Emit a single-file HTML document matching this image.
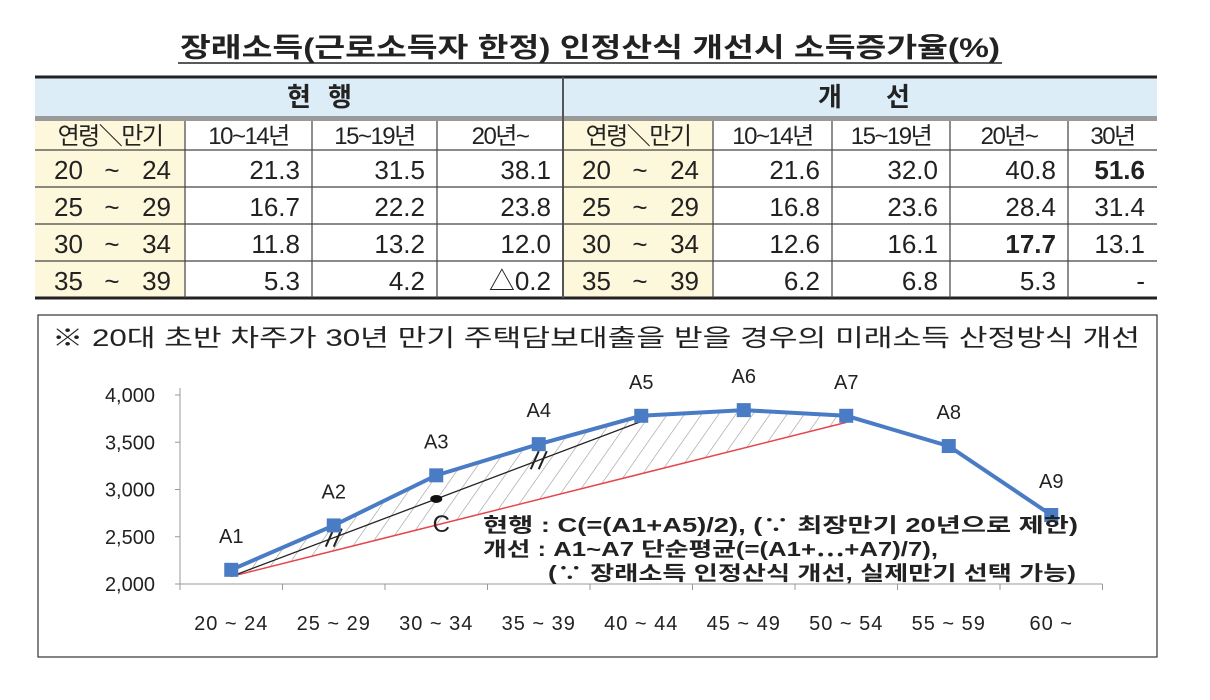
<!DOCTYPE html>
<html><head><meta charset="utf-8"><style>
body{margin:0;background:#fff;width:1210px;height:695px;overflow:hidden}
svg text{font-family:"Liberation Sans","Noto Sans CJK KR",sans-serif;fill:#222}
</style></head><body>
<svg width="1210" height="695">
<defs><pattern id="hatch" width="14" height="14" patternUnits="userSpaceOnUse" patternTransform="rotate(35)"><line x1="0" y1="0" x2="0" y2="14" stroke="#999" stroke-width="1.2"/></pattern></defs>
<text x="180" y="57" font-size="27" font-weight="bold" textLength="820" lengthAdjust="spacingAndGlyphs">장래소득(근로소득자 한정) 인정산식 개선시 소득증가율(%)</text>
<line x1="178" y1="63" x2="1002" y2="63" stroke="#222" stroke-width="1.5"/>
<g id="table"></g>
<rect x="38" y="315" width="1119" height="342" fill="none" stroke="#333" stroke-width="1.2"/>
<text x="52" y="346" font-size="24" textLength="1088" lengthAdjust="spacingAndGlyphs">※ 20대 초반 차주가 30년 만기 주택담보대출을 받을 경우의 미래소득 산정방식 개선</text>
<g id="chart"></g>
</svg>
<script>
const NS='http://www.w3.org/2000/svg';
function mk(p,t,a,txt){const e=document.createElementNS(NS,t);for(const k in a)e.setAttribute(k,a[k]);if(txt!==undefined)e.textContent=txt;p.appendChild(e);return e;}
// ---- table ----
const tb=document.getElementById('table');
const colX=[35,185,312,437,563,713,832,950,1068,1157];
const rowY=[150,187,224,261,298];
const ages=['20 ~ 24','25 ~ 29','30 ~ 34','35 ~ 39'];
const curVals=[['21.3','31.5','38.1'],['16.7','22.2','23.8'],['11.8','13.2','12.0'],['5.3','4.2','△0.2']];
const newVals=[['21.6','32.0','40.8','51.6'],['16.8','23.6','28.4','31.4'],['12.6','16.1','17.7','13.1'],['6.2','6.8','5.3','-']];
const boldCells=['0-3','2-2'];
mk(tb,'rect',{x:35,y:78,width:1122,height:38,fill:'#dcedf8'});
mk(tb,'rect',{x:35,y:116,width:1122,height:5,fill:'#9a9a9a'});
mk(tb,'rect',{x:35,y:121,width:150,height:177,fill:'#fdf8dc'});
mk(tb,'rect',{x:563,y:121,width:150,height:177,fill:'#fdf8dc'});
mk(tb,'line',{x1:35,y1:77,x2:1157,y2:77,stroke:'#222','stroke-width':3});
mk(tb,'line',{x1:35,y1:298,x2:1157,y2:298,stroke:'#222','stroke-width':3});
mk(tb,'line',{x1:563,y1:77,x2:563,y2:298,stroke:'#555','stroke-width':2});
rowY.slice(0,4).forEach(y=>mk(tb,'line',{x1:35,y1:y,x2:1157,y2:y,stroke:'#444','stroke-width':1.2}));
colX.slice(1,9).forEach(x=>{if(x!==563)mk(tb,'line',{x1:x,y1:121,x2:x,y2:298,stroke:'#444','stroke-width':1.2});});
let t=mk(tb,'text',{x:299,y:106,'font-size':26,'font-weight':'bold','text-anchor':'middle'},'현');
mk(tb,'text',{x:340,y:106,'font-size':26,'font-weight':'bold','text-anchor':'middle'},'행');
t=mk(tb,'text',{x:262,y:106,'font-size':26,'font-weight':'bold','text-anchor':'middle'},'');
t=mk(tb,'text',{x:830,y:106,'font-size':26,'font-weight':'bold','text-anchor':'middle'},'개');
mk(tb,'text',{x:898,y:106,'font-size':26,'font-weight':'bold','text-anchor':'middle'},'선');
const heads=['연령＼만기','10~14년','15~19년','20년~','연령＼만기','10~14년','15~19년','20년~','30년'];
heads.forEach((h,i)=>{const e=mk(tb,'text',{x:(colX[i]+colX[i+1])/2,y:144,'font-size':24,'text-anchor':'middle','letter-spacing':'-1.5'},h);});
ages.forEach((a,r)=>{const y=rowY[r]+29;
 [35,563].forEach(x=>{mk(tb,'text',{x:x+19,y:y,'font-size':26},a.split(' ~ ')[0]);mk(tb,'text',{x:x+77,y:y,'font-size':26,'text-anchor':'middle'},'~');mk(tb,'text',{x:x+136,y:y,'font-size':26,'text-anchor':'end'},a.split(' ~ ')[1]);});
 curVals[r].forEach((v,c)=>{const e=mk(tb,'text',{x:colX[c+2]-12,y:y,'font-size':26,'text-anchor':'end'},v);});
 newVals[r].forEach((v,c)=>{const e=mk(tb,'text',{x:colX[c+6]-12,y:y,'font-size':26,'text-anchor':'end','font-weight':boldCells.includes(r+'-'+c)?'bold':'normal'},v);});
});
// ---- chart ----
const categories=['20~24','25~29','30~34','35~39','40~44','45~49','50~54','55~59','60~'];
const incomeValues=[2150,2620,3150,3480,3780,3840,3780,3460,2730];
const pointLabels=['A1','A2','A3','A4','A5','A6','A7','A8','A9'];
const yTicks=[2000,2500,3000,3500,4000];
const currentLine=[[0,2080],[4,3720]];
const improvedLine=[[0,2080],[6,3710]];
const cPoint=[2,2900];
const ch=document.getElementById('chart');
const X0=180,Y0=584,step=102.5;
const xs=i=>X0+step*(i+0.5);
const ys=v=>Y0-(v-2000)*0.0945;
mk(ch,'line',{x1:X0,y1:388,x2:X0,y2:Y0,stroke:'#999'});
mk(ch,'line',{x1:X0,y1:Y0,x2:X0+step*9,y2:Y0,stroke:'#999'});
yTicks.forEach(v=>{mk(ch,'line',{x1:X0-5,y1:ys(v),x2:X0,y2:ys(v),stroke:'#999'});const e=mk(ch,'text',{x:X0-25,y:ys(v)+7,'font-size':20,'text-anchor':'end'},v.toLocaleString('en-US'));});
for(let i=0;i<=9;i++)mk(ch,'line',{x1:X0+step*i,y1:Y0,x2:X0+step*i,y2:Y0+6,stroke:'#999'});
categories.forEach((c,i)=>{const e=mk(ch,'text',{x:xs(i),y:630,'font-size':20,'text-anchor':'middle','letter-spacing':'1'},c.replace('~',' ~ '));});
let pts=incomeValues.slice(0,7).map((v,i)=>xs(i)+','+ys(v));
pts.push(xs(improvedLine[1][0])+','+ys(improvedLine[1][1]));pts.push(xs(0)+','+ys(improvedLine[0][1]));
const area=mk(ch,'polygon',{points:pts.join(' '),fill:'url(#hatch)'});
let e=mk(ch,'line',{x1:xs(improvedLine[0][0]),y1:ys(improvedLine[0][1]),x2:xs(improvedLine[1][0]),y2:ys(improvedLine[1][1]),stroke:'#e8454a','stroke-width':1.5});
e=mk(ch,'line',{x1:xs(currentLine[0][0]),y1:ys(currentLine[0][1]),x2:xs(currentLine[1][0]),y2:ys(currentLine[1][1]),stroke:'#222','stroke-width':1.3});
[1,3].forEach(i=>{const f=i/4;const px=xs(0)+(xs(4)-xs(0))*f,py=ys(currentLine[0][1])+(ys(currentLine[1][1])-ys(currentLine[0][1]))*f;
 [-4,4].forEach(d=>mk(ch,'line',{x1:px+d-4,y1:py+9,x2:px+d+4,y2:py-9,stroke:'#222','stroke-width':2}));});
e=mk(ch,'ellipse',{cx:xs(cPoint[0]),cy:ys(cPoint[1]),rx:6,ry:4,fill:'#111'});
mk(ch,'text',{x:xs(cPoint[0])+5,y:ys(cPoint[1])+33,'font-size':24,'text-anchor':'middle'},'C');
e=mk(ch,'polyline',{points:incomeValues.map((v,i)=>xs(i)+','+ys(v)).join(' '),fill:'none',stroke:'#4a7cc6','stroke-width':4});
incomeValues.forEach((v,i)=>{const m=mk(ch,'rect',{x:xs(i)-7,y:ys(v)-7,width:14,height:14,fill:'#4a7cc6'});
 const l=mk(ch,'text',{x:xs(i),y:ys(v)-27,'font-size':20,'text-anchor':'middle'},pointLabels[i]);});
const notes=[['현행 : C(=(A1+A5)/2),  (∵ 최장만기 20년으로 제한)',483,595],['개선 : A1~A7 단순평균(=(A1+⋯+A7)/7),',483,455],['(∵ 장래소득 인정산식 개선, 실제만기 선택 가능)',548,528]];
notes.forEach((n,i)=>{
 const el=mk(ch,'text',{x:n[1],y:532+i*24,'font-size':20,'font-weight':'bold',textLength:n[2],lengthAdjust:'spacingAndGlyphs'},n[0]);});
</script>
</body></html>
